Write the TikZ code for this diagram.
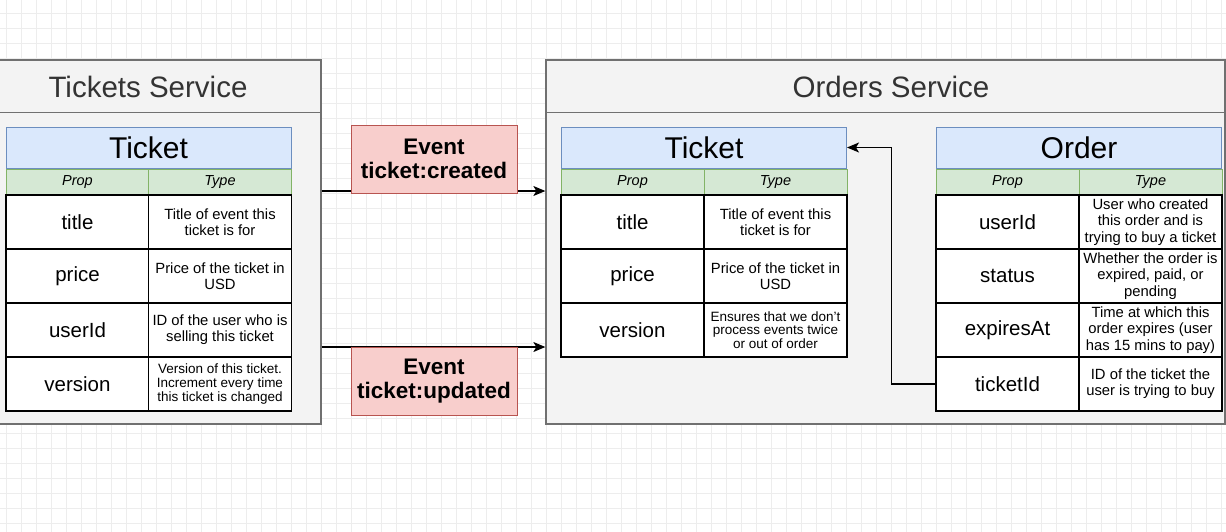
\documentclass[tikz,border=0pt]{standalone}
\usepackage{fontspec}
\setmainfont{Liberation Sans}
\usetikzlibrary{arrows.meta}

\definecolor{gridcol}{HTML}{EDEDED}
\definecolor{svcfill}{HTML}{F3F3F3}
\definecolor{svcline}{HTML}{707070}
\definecolor{svctext}{HTML}{333333}
\definecolor{titlefill}{HTML}{DAE8FC}
\definecolor{titleline}{HTML}{6C8EBF}
\definecolor{propfill}{HTML}{D5E8D4}
\definecolor{propline}{HTML}{82B366}
\definecolor{evfill}{HTML}{F8CECC}
\definecolor{evline}{HTML}{B85450}

\tikzset{
  svc/.style={draw=svcline, fill=svcfill, line width=1.3pt, inner sep=0},
  svcname/.style={text=svctext, font=\fontsize{29.5}{34}\selectfont},
  tabtitle/.style={draw=titleline, fill=titlefill, line width=1pt, minimum width=285, minimum height=41, inner sep=0, font=\fontsize{30}{34}\selectfont},
  tabprop/.style={draw=propline, fill=propfill, line width=1pt, minimum width=143, minimum height=26, inner sep=0, font=\fontsize{14.5}{16}\selectfont\itshape},
  cellname/.style={draw=black, fill=white, line width=1.2pt, minimum width=143, minimum height=54, inner sep=0, font=\fontsize{20.5}{24}\selectfont},
  celldesc/.style={draw=black, fill=white, line width=1.2pt, minimum width=143, minimum height=54, inner sep=0, align=center, font=\fontsize{14.8}{16.3}\selectfont},
  cellsmall/.style={celldesc, font=\fontsize{13.5}{13.6}\selectfont},
  eventbox/.style={draw=evline, fill=evfill, line width=1pt, minimum width=166, minimum height=68, inner sep=0, align=center, font=\fontsize{22.5}{24.5}\selectfont\bfseries},
  flow/.style={line width=1.2pt, -{Stealth[length=12pt,width=10pt,inset=3pt]}}
}

\begin{document}
\begin{tikzpicture}[x=1pt,y=-1pt]
\useasboundingbox (0,0) rectangle (1226,531);
\fill[white] (0,0) rectangle (1226,531);
\draw[gridcol, line width=0.6pt, shift={(6.7,13)}] (-15,-15) grid[step=15pt] (1230,540);

% tickets service
\node[svc, minimum width=326, minimum height=364] (tsvc) at (158,242) {};
\draw[svc] ([yshift=-53pt]tsvc.north west) -- ([yshift=-53pt]tsvc.north east);
\node[svcname] (tsvcname) at (148,87) {Tickets Service};

\node[tabtitle] (tticket) at (148.5,147.5) {Ticket};
\node[tabprop] (tprop) at (77.5,182) {Prop};
\node[tabprop] (ttype) at (220,182) {Type};
\node[cellname] (ttitle) at (77.5,222) {title};
\node[celldesc] (ttitledesc) at (220,222) {Title of event this\\ticket is for};
\node[cellname] (tprice) at (77.5,276) {price};
\node[celldesc] (tpricedesc) at (220,276) {Price of the ticket in\\USD};
\node[cellname] (tuser) at (77.5,330) {userId};
\node[celldesc] (tuserdesc) at (220,330) {ID of the user who is\\selling this ticket};
\node[cellname] (tversion) at (77.5,384) {version};
\node[cellsmall] (tversiondesc) at (220,384) {Version of this ticket.\\Increment every time\\this ticket is changed};

% orders service
\node[svc, minimum width=679, minimum height=364] (osvc) at (885.5,242) {};
\draw[svc] ([yshift=-53pt]osvc.north west) -- ([yshift=-53pt]osvc.north east);
\node[svcname] (osvcname) at (891,87) {Orders Service};

\node[tabtitle] (oticket) at (704,147.5) {Ticket};
\node[tabprop] (oprop) at (632.5,182) {Prop};
\node[tabprop] (otype) at (775.5,182) {Type};
\node[cellname] (otitle) at (632.5,222) {title};
\node[celldesc] (otitledesc) at (775.5,222) {Title of event this\\ticket is for};
\node[cellname] (oprice) at (632.5,276) {price};
\node[celldesc] (opricedesc) at (775.5,276) {Price of the ticket in\\USD};
\node[cellname] (oversion) at (632.5,330) {version};
\node[cellsmall] (oversiondesc) at (775.5,330) {Ensures that we don't\\process events twice\\or out of order};

\node[tabtitle] (order) at (1079,147.5) {Order};
\node[tabprop] (rprop) at (1007.5,182) {Prop};
\node[tabprop] (rtype) at (1150.5,182) {Type};
\node[cellname] (ruser) at (1007.5,222) {userId};
\node[celldesc] (ruserdesc) at (1150.5,222) {User who created\\this order and is\\trying to buy a ticket};
\node[cellname] (rstatus) at (1007.5,276) {status};
\node[celldesc] (rstatusdesc) at (1150.5,276) {Whether the order is\\expired, paid, or\\pending};
\node[cellname] (rexpires) at (1007.5,330) {expiresAt};
\node[celldesc] (rexpiresdesc) at (1150.5,330) {Time at which this\\order expires (user\\has 15 mins to pay)};
\node[cellname] (rticket) at (1007.5,384) {ticketId};
\node[celldesc] (rticketdesc) at (1150.5,384) {ID of the ticket the\\user is trying to buy};

\draw[flow] (rticket.west) -- ++(-44,0) |- (oticket.east);

% events
\coordinate (created) at (434,191);
\coordinate (updated) at (434,347);
\draw[flow] (tsvc.east |- created) -- (osvc.west |- created);
\draw[flow] (tsvc.east |- updated) -- (osvc.west |- updated);
\node[eventbox] (evcreated) at (434,159) {Event\\ticket:created};
\node[eventbox] (evupdated) at (434,381) {Event\\ticket:updated};

\end{tikzpicture}
\end{document}
